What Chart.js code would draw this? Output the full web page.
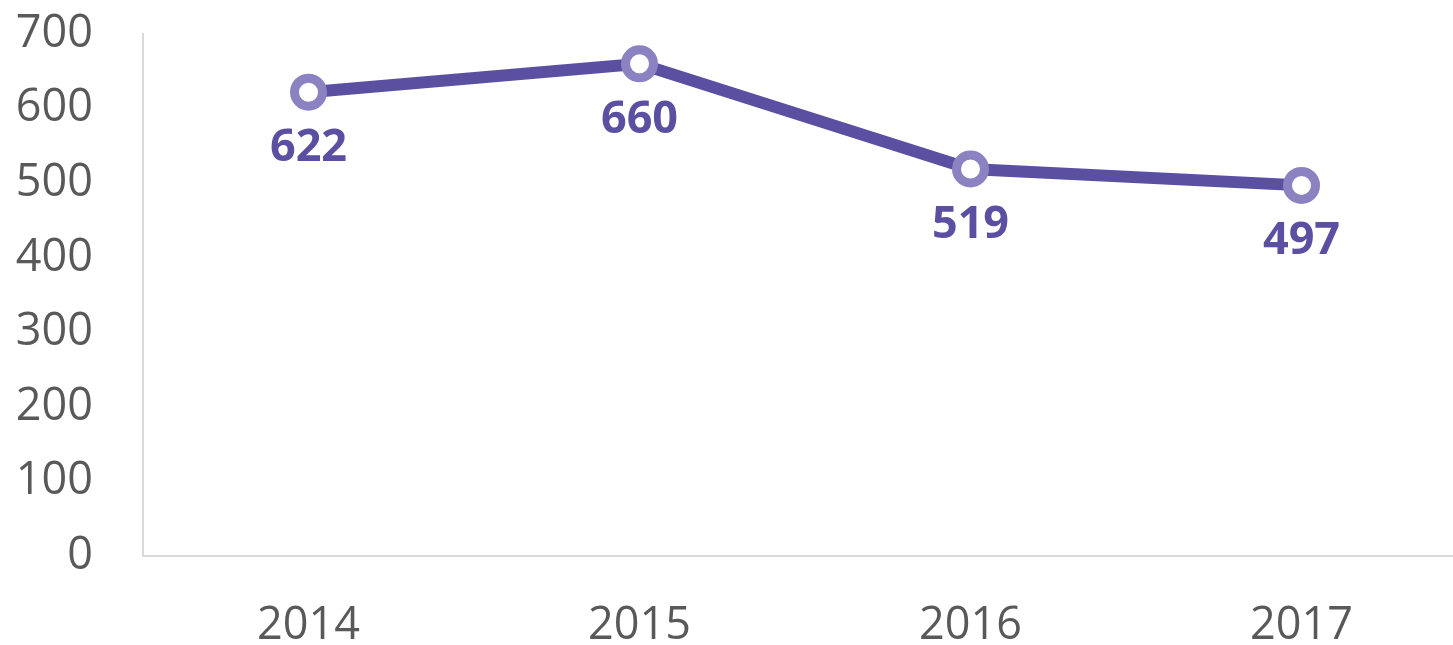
<!DOCTYPE html>
<html>
<head>
  <meta charset="utf-8" />
  <script src="https://cdn.jsdelivr.net/npm/chart.js@4.4.1/dist/chart.umd.min.js"></script>
  <style>
    html,body{margin:0;background:#fff;overflow:hidden;}
    #wrap{position:absolute;left:0;top:0;width:1453px;height:645px;}
  </style>
</head>
<body>
<div id="wrap"><canvas id="chart" width="1453" height="645"></canvas></div>

<script>
/* ---------- Data ---------- */
const years = ['2014', '2015', '2016', '2017'];
const values = [622, 660, 519, 497];
const yTicks = [0, 100, 200, 300, 400, 500, 600, 700];

/* ---------- Styles ---------- */
const LINE_COL = '#5A4FA1';
const RING_COL = '#8B82C2';
const AXIS_COL = '#D9D9D9';
const TEXT_COL = '#595959';
const FONT = "'Open Sans', sans-serif";
const X_OVERHANG = 37;   // plot runs a little past the right edge, as in the source

// value labels under each point
const valueLabels = {
  id: 'valueLabels',
  afterDatasetsDraw(chart){
    const ctx = chart.ctx;
    const meta = chart.getDatasetMeta(0);
    ctx.save();
    ctx.font = "bold 45px " + FONT;
    ctx.fillStyle = LINE_COL;
    ctx.textAlign = 'center';
    ctx.textBaseline = 'middle';
    meta.data.forEach((pt, i) => {
      ctx.fillText(String(values[i]), pt.x, pt.y + 56);
    });
    ctx.restore();
  }
};

// stretch the category axis past the canvas edge
const stretchX = {
  id: 'stretchX',
  afterLayout(chart){
    const s = chart.scales.x;
    s.right += X_OVERHANG;
    s.width += X_OVERHANG;
    s.configure();
  }
};

// strip the automatic label overhang padding so the plot box is fixed
function noPad(s){ s.paddingTop = 0; s.paddingBottom = 0; s.paddingLeft = 0; s.paddingRight = 0; }

new Chart(document.getElementById('chart'), {
  type: 'line',
  data: {
    labels: years,
    datasets: [{
      data: values,
      borderColor: LINE_COL,
      borderWidth: 12,
      tension: 0,
      pointRadius: 14,
      pointHoverRadius: 14,
      pointBorderWidth: 9,
      pointBackgroundColor: '#FFFFFF',
      pointBorderColor: RING_COL
    }]
  },
  options: {
    responsive: false,
    devicePixelRatio: 1,
    animation: false,
    layout: { padding: { top: 34, right: 0, left: 0, bottom: 0 } },
    plugins: { legend: { display: false }, tooltip: { enabled: false } },
    scales: {
      x: {
        type: 'category',
        offset: true,
        grid: { display: false, drawTicks: false },
        border: { display: true, color: AXIS_COL, width: 2 },
        ticks: { color: TEXT_COL, font: { family: FONT, size: 45 }, padding: 43, maxRotation: 0 },
        afterFit(s){ s.height = 89; noPad(s); }
      },
      y: {
        min: 0,
        max: 700,
        afterBuildTicks(s){ s.ticks = yTicks.map(v => ({ value: v })); },
        grid: { display: false, drawTicks: false },
        border: { display: true, color: AXIS_COL, width: 2 },
        ticks: { color: TEXT_COL, font: { family: FONT, size: 45 }, padding: 50 },
        afterFit(s){ s.width = 143; noPad(s); }
      }
    }
  },
  plugins: [stretchX, valueLabels]
});
</script>
</body>
</html>
